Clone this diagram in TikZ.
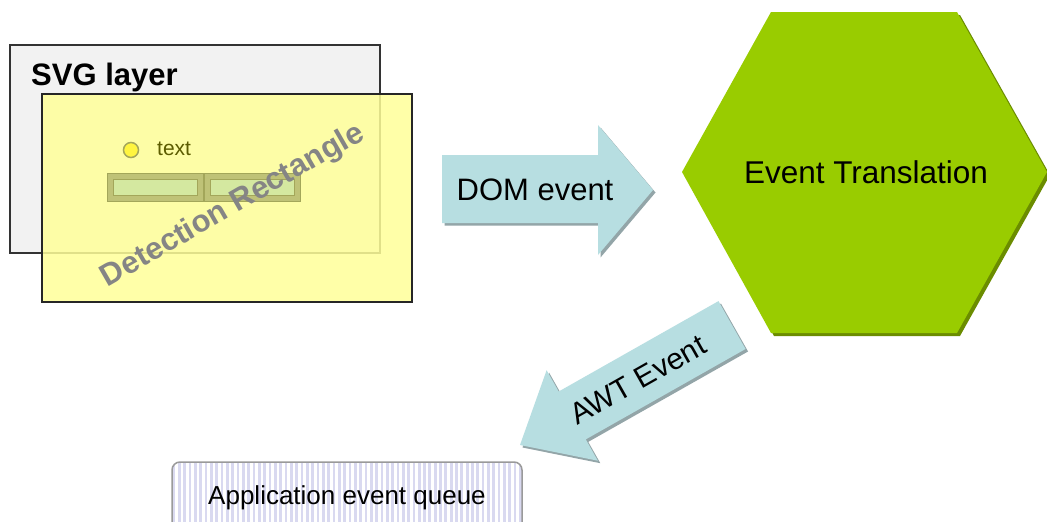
\documentclass[tikz,border=0pt]{standalone}
\usepackage{fontspec}
\setmainfont{Liberation Sans}
\definecolor{layergray}{HTML}{F2F2F2}
\definecolor{detyellow}{HTML}{FFFF99}
\definecolor{arrowblue}{HTML}{B7DEE1}
\definecolor{arrowshadow}{HTML}{93A5A8}
\definecolor{hexgreen}{HTML}{99CC00}
\definecolor{hexshadow}{HTML}{6B8C00}
\definecolor{olivetext}{HTML}{5C5C00}
\definecolor{btnouter}{HTML}{BFC277}
\definecolor{btninner}{HTML}{D4E8A0}
\definecolor{btnedge}{HTML}{A3A65A}
\definecolor{stripe}{HTML}{D9D9F0}
\definecolor{queueedge}{HTML}{9A9A9A}
\definecolor{dettext}{HTML}{858585}
\begin{document}
\begin{tikzpicture}[x=1pt,y=-1pt,
  bigfont/.style={font=\fontsize{31}{37}\selectfont},
  blockarrow/.style={fill=arrowblue},
  blockshadow/.style={fill=arrowshadow},
  btnframe/.style={draw=btnedge, fill=btnouter, line width=1pt},
  btnface/.style={draw=btnedge, fill=btninner, line width=1pt},
  label/.style={inner sep=0pt}]
\useasboundingbox (0,0) rectangle (1047,522);
\clip (0,0) rectangle (1047,522);
\fill[white] (0,0) rectangle (1047,522);

% SVG layer
\draw[line width=1.5pt, draw=black!80, fill=layergray] (10,45) rectangle (380,253);
\node[label, anchor=base west, font=\bfseries\fontsize{31}{37}\selectfont] (svglabel) at (31,85) {SVG layer};

% Detection rectangle
\draw[line width=1.5pt, draw=black!85, fill=detyellow, fill opacity=0.85] (42,94) rectangle (412,302);
\draw[draw=btnedge, fill=yellow!75!white, line width=1.5pt] (131,150) circle[radius=7.5pt];
\node[label, anchor=base west, text=olivetext, font=\fontsize{21}{25}\selectfont] (smalltext) at (157,155) {text};
\draw[btnframe] (107,173) rectangle (203,201);
\draw[btnframe] (204,173) rectangle (300,201);
\draw[btnface] (113,179) rectangle (197,195);
\draw[btnface] (210,179) rectangle (294,195);
\node[label, rotate=30, text=dettext, font=\bfseries\fontsize{31}{37}\selectfont] (detlabel) at (233,206) {Detection Rectangle};

% DOM event arrow
\fill[blockshadow] (444.5,157.5) -- (600.5,157.5) -- (600.5,127.5) -- (655.5,192.5) -- (600.5,257.5) -- (600.5,225.5) -- (444.5,225.5) -- cycle;
\fill[blockarrow] (442,155) -- (598,155) -- (598,125) -- (653,190) -- (598,255) -- (598,223) -- (442,223) -- cycle;
\node[label, anchor=base, bigfont] (domlabel) at (535,200) {DOM event};

% Event Translation hexagon
\fill[hexshadow] (774,15) -- (960,15) -- (1050,175) -- (960,336) -- (774,336) -- (685,175) -- cycle;
\fill[hexgreen] (771,12) -- (957,12) -- (1047,172) -- (957,333) -- (771,333) -- (682,172) -- cycle;
\node[label, font=\fontsize{31.5}{38}\selectfont] (hexlabel) at (866,172) {Event Translation};

% AWT Event arrow
\begin{scope}[shift={(522.5,447.5)}, rotate=209.5]
  \fill[blockshadow] (0,0) -- (-60,52) -- (-60,27.5) -- (-243.6,27.5) -- (-243.6,-27.5) -- (-60,-27.5) -- (-60,-52) -- cycle;
\end{scope}
\begin{scope}[shift={(520,445)}, rotate=209.5]
  \fill[blockarrow] (0,0) -- (-60,52) -- (-60,27.5) -- (-243.6,27.5) -- (-243.6,-27.5) -- (-60,-27.5) -- (-60,-52) -- cycle;
\end{scope}
\node[label, rotate=29.5, font=\fontsize{30}{36}\selectfont] (awtlabel) at (638,380) {AWT Event};

% Application event queue
\node[draw=queueedge, line width=1.5pt, fill=white, rounded corners=8pt,
      minimum width=350pt, minimum height=72pt, inner sep=0pt,
      font=\fontsize{26}{31}\selectfont,
      path picture={\foreach \i in {0,...,66}{\draw[stripe, line width=2.7pt]
         ([xshift=\i*5.33pt+2pt]path picture bounding box.north west) --
         ([xshift=\i*5.33pt+2pt]path picture bounding box.south west);}}]
      (queue) at (347,498) {Application event queue};
\end{tikzpicture}
\end{document}
